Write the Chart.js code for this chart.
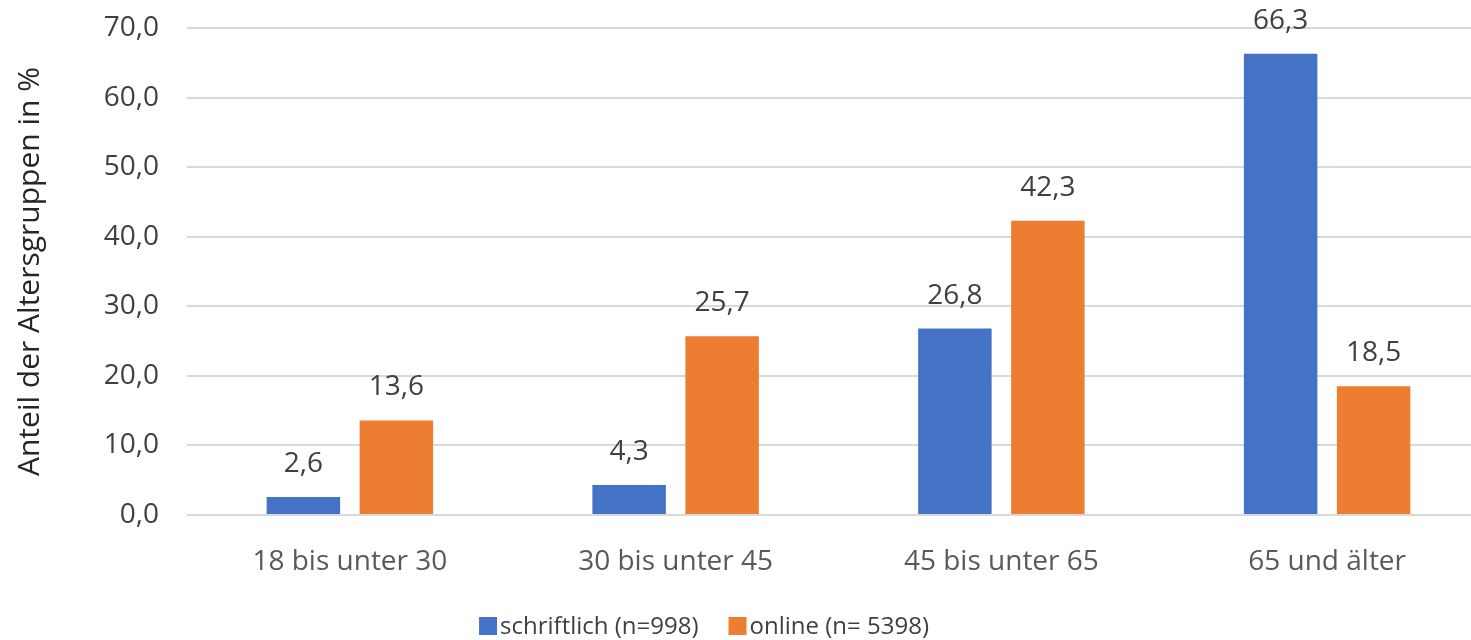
<!DOCTYPE html>
<html>
<head>
<meta charset="utf-8">
<script src="https://cdn.jsdelivr.net/npm/chart.js@4"></script>
<style>
  html, body { margin: 0; padding: 0; background: #fff; overflow: hidden; }
  #wrap { width: 1500px; height: 640px; }
</style>
</head>
<body>
<div id="wrap"><canvas id="chart" width="1500" height="640"></canvas></div>
<script>
// DATA
const categories = ['18 bis unter 30', '30 bis unter 45', '45 bis unter 65', '65 und älter'];
const schriftlich = [2.6, 4.3, 26.8, 66.3];
const online = [13.6, 25.7, 42.3, 18.5];
const seriesNames = ['schriftlich (n=998)', 'online (n= 5398)'];
const yTicks = [0, 10, 20, 30, 40, 50, 60, 70];

const FONT = "'Open Sans', 'Noto Sans', sans-serif";
const fmt = v => v.toFixed(1).replace('.', ',');

// value labels above the bars
const barLabels = {
  id: 'barLabels',
  afterDatasetsDraw(chart) {
    const ctx = chart.ctx;
    ctx.save();
    ctx.font = '28px ' + FONT;
    ctx.fillStyle = '#404040';
    ctx.textAlign = 'center';
    ctx.textBaseline = 'alphabetic';
    chart.data.datasets.forEach((ds, i) => {
      chart.getDatasetMeta(i).data.forEach((bar, j) => {
        ctx.fillText(fmt(ds.data[j]), bar.x, bar.y - 25);
      });
    });
    ctx.restore();
  }
};

// legend drawn like the excel one: small square, text right next to it
const bottomLegend = {
  id: 'bottomLegend',
  afterDraw(chart) {
    const ctx = chart.ctx;
    const box = 18, gap = 3, spacing = 30, centerX = 704, midY = 626;
    ctx.save();
    ctx.font = '24px ' + FONT;
    ctx.textBaseline = 'middle';
    ctx.textAlign = 'left';
    const items = chart.data.datasets.map(ds => ({ text: ds.label, color: ds.backgroundColor, w: ctx.measureText(ds.label).width }));
    let total = items.reduce((s, it) => s + box + gap + it.w, 0) + spacing * (items.length - 1);
    let x = centerX - total / 2;
    items.forEach(it => {
      ctx.fillStyle = it.color;
      ctx.fillRect(x, midY - box / 2, box, box);
      ctx.fillStyle = '#404040';
      ctx.fillText(it.text, x + box + gap, midY + 1);
      x += box + gap + it.w + spacing;
    });
    ctx.restore();
  }
};

const ctx = document.getElementById('chart').getContext('2d');
new Chart(ctx, {
  type: 'bar',
  data: {
    labels: categories,
    datasets: [
      { label: seriesNames[0], data: schriftlich, backgroundColor: '#4472C4' },
      { label: seriesNames[1], data: online, backgroundColor: '#ED7D31' }
    ]
  },
  options: {
    responsive: false,
    animation: false,
    categoryPercentage: 0.571,
    barPercentage: 0.79,
    layout: { padding: { top: 28, right: 10, left: 0, bottom: 60 } },
    plugins: {
      tooltip: { enabled: false },
      legend: { display: false }
    },
    scales: {
      x: {
        grid: { display: false },
        border: { display: false },
        ticks: {
          font: { family: FONT, size: 28 },
          color: '#595959',
          padding: 22,
          maxRotation: 0
        },
        afterFit(scale) { scale.height = 65; }
      },
      y: {
        min: 0,
        max: 70,
        afterBuildTicks(scale) { scale.ticks = yTicks.map(v => ({ value: v })); },
        grid: { color: '#d9d9d9', lineWidth: 2, drawTicks: false },
        border: { display: false },
        ticks: {
          font: { family: FONT, size: 28 },
          color: '#404040',
          padding: 28,
          callback: v => fmt(v)
        },
        title: {
          display: true,
          text: 'Anteil der Altersgruppen in %',
          font: { family: FONT, size: 30 },
          color: '#262626',
          padding: { top: 12, bottom: 0 }
        },
        afterFit(scale) {
          scale.width = 187;
          scale.paddingTop = 0;
          scale.paddingBottom = 0;
        }
      }
    }
  },
  plugins: [barLabels, bottomLegend]
});
</script>
</body>
</html>
